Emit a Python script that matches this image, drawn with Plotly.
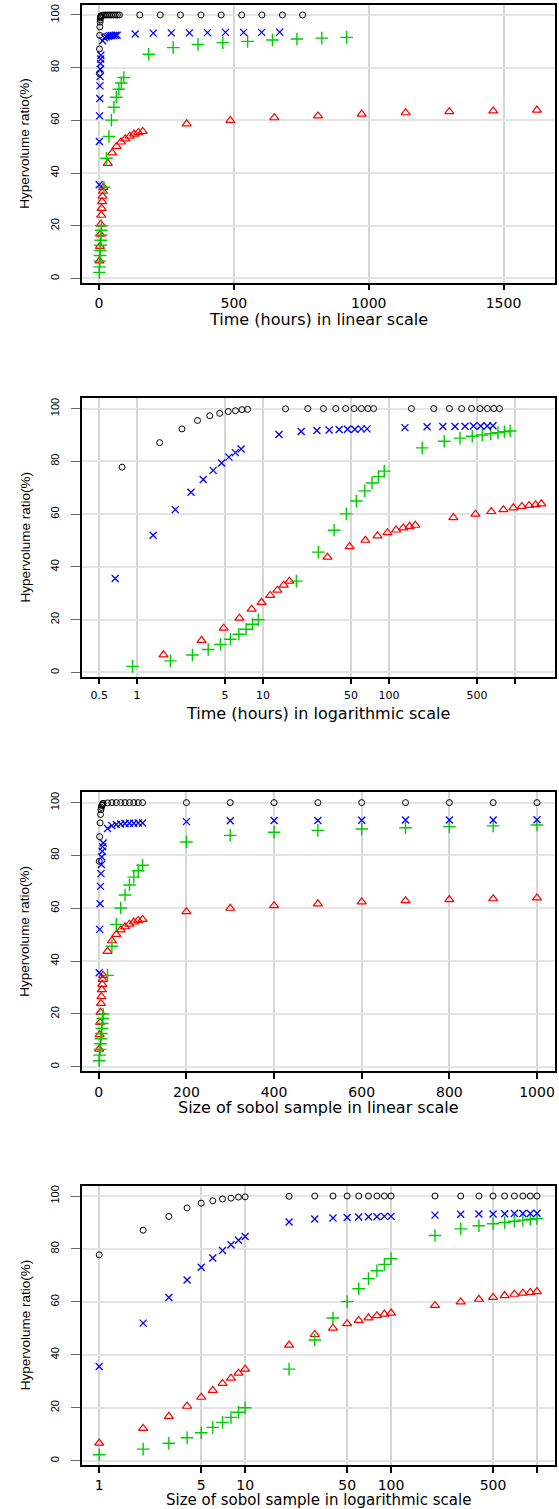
import plotly.graph_objects as go

# ---------------- data ----------------
sample_size = [1, 2, 3, 4, 5, 6, 7, 8, 9, 10,
               20, 30, 40, 50, 60, 70, 80, 90, 100,
               200, 300, 400, 500, 600, 700, 800, 900, 1000]

# hypervolume ratio (%) per sample size
hv_black = [77.8, 87.1, 92.3, 95.5, 97.3, 98.2, 98.9, 99.2, 99.6, 99.7,
            99.9, 100.0, 100.0, 100.0, 100.0, 100.0, 100.0, 100.0, 100.0,
            100.0, 100.0, 100.0, 100.0, 100.0, 100.0, 100.0, 100.0, 100.0]
hv_blue = [35.6, 52.0, 61.7, 68.3, 73.1, 76.6, 79.4, 81.6, 83.3, 84.7,
           90.2, 91.3, 91.7, 91.9, 92.1, 92.2, 92.2, 92.3, 92.3,
           92.8, 93.1, 93.2, 93.2, 93.3, 93.4, 93.4, 93.4, 93.5]
hv_green = [2.3, 4.4, 6.6, 8.7, 10.6, 12.6, 14.5, 16.4, 18.3, 20.0,
            34.6, 45.6, 53.9, 60.1, 65.0, 68.8, 71.8, 74.2, 76.3,
            85.1, 87.6, 88.8, 89.5, 90.0, 90.5, 90.9, 91.2, 91.5]
hv_red = [6.7, 12.2, 16.8, 20.6, 24.0, 26.6, 29.2, 31.2, 33.1, 34.6,
          43.7, 47.7, 50.1, 51.8, 53.0, 54.0, 54.8, 55.4, 55.8,
          58.7, 60.0, 61.0, 61.7, 62.4, 62.9, 63.3, 63.6, 63.9]

# computation time (hours) per sample size
time_black = [0.76, 1.51, 2.27, 3.02, 3.78, 4.53, 5.29, 6.04, 6.8, 7.55,
              15.1, 22.7, 30.2, 37.8, 45.3, 52.9, 60.4, 68.0, 75.5,
              151, 227, 302, 378, 453, 529, 604, 680, 755]
time_blue = [0.67, 1.34, 2.01, 2.68, 3.35, 4.02, 4.69, 5.36, 6.03, 6.7,
             13.4, 20.1, 26.8, 33.5, 40.2, 46.9, 53.6, 60.3, 67.0,
             134, 201, 268, 335, 402, 469, 536, 603, 670]
time_green = [0.92, 1.84, 2.75, 3.67, 4.59, 5.51, 6.43, 7.34, 8.26, 9.18,
              18.4, 27.5, 36.7, 45.9, 55.1, 64.3, 73.4, 82.6, 91.8,
              184, 275, 367, 459, 551, 643, 734, 826, 918]
time_red = [1.62, 3.25, 4.87, 6.5, 8.12, 9.74, 11.4, 13.0, 14.6, 16.2,
            32.5, 48.7, 65.0, 81.2, 97.4, 114, 130, 146, 162,
            325, 487, 650, 812, 974, 1137, 1299, 1462, 1624]

lin_time_ticks = [0, 500, 1000, 1500]
log_time_ticks = [0.5, 1, 5, 10, 50, 100, 500, 1000]
log_time_labels = ["0.5", "1", "5", "10", "50", "100", "500", ""]
lin_size_ticks = [0, 200, 400, 600, 800, 1000]
log_size_ticks = [1, 5, 10, 50, 100, 500, 1000]
log_size_labels = ["1", "5", "10", "50", "100", "500", ""]
y_ticks = [0, 20, 40, 60, 80, 100]

x_titles = ["Time (hours) in linear scale",
            "Time (hours) in logarithmic scale",
            "Size of sobol sample in linear scale",
            "Size of sobol sample in logarithmic scale"]
y_title = "Hypervolume ratio(%)"

# ---------------- layout geometry ----------------
W, H = 559, 1509
FL, FR = 81.7, 554.5
frames = [(4.7, 282.7), (398.3, 676.7), (792.3, 1071.0), (1185.7, 1465.0)]
x_title_offset = [36.5, 36.5, 36.5, 34.5]
x_title_size = [16, 16, 16, 15]
x_tick_standoff = [1, 1, 1, 0]

series = [
    ("pch 1", time_black, hv_black, dict(symbol="circle-open", size=6, color="black",
                                          line=dict(width=1, color="black"))),
    ("pch 2", time_red, hv_red, dict(symbol="triangle-up-open", size=8, color="#FF0000",
                                      line=dict(width=1.2, color="#FF0000"))),
    ("pch 3", time_green, hv_green, dict(symbol="cross-thin-open", size=9, color="#00CD00",
                                          line=dict(width=1.4, color="#00CD00"))),
    ("pch 4", time_blue, hv_blue, dict(symbol="x-thin-open", size=7, color="#0000FF",
                                        line=dict(width=1.3, color="#0000FF"))),
]

fig = go.Figure()

for p in range(4):
    ax = "" if p == 0 else str(p + 1)
    for name, t, hv, mk in series:
        xs = t if p < 2 else sample_size
        fig.add_trace(go.Scatter(x=xs, y=hv, mode="markers", name=name, marker=mk,
                                 xaxis="x" + ax, yaxis="y" + ax, showlegend=False,
                                 cliponaxis=False))

x_specs = [
    dict(type="linear", range=[-64.3, 1689], tickvals=lin_time_ticks,
         ticktext=[str(v) for v in lin_time_ticks], tfs=14),
    dict(type="log", range=[-0.440, 3.315], tickvals=log_time_ticks,
         ticktext=log_time_labels, tfs=11),
    dict(type="linear", range=[-38.96, 1039.96], tickvals=lin_size_ticks,
         ticktext=[str(v) for v in lin_size_ticks], tfs=14),
    dict(type="log", range=[-0.12, 3.12], tickvals=log_size_ticks,
         ticktext=log_size_labels, tfs=14),
]

annotations = []
for p, (top, bot) in enumerate(frames):
    ax = "" if p == 0 else str(p + 1)
    spec = x_specs[p]
    ydom = [1 - bot / H, 1 - top / H]
    fig.layout["xaxis" + ax] = dict(
        domain=[FL / W, FR / W], anchor="y" + ax, type=spec["type"], range=spec["range"],
        tickmode="array", tickvals=spec["tickvals"], ticktext=spec["ticktext"],
        ticks="outside", ticklen=6, tickwidth=1.5, tickcolor="black",
        tickfont=dict(family="DejaVu Sans", size=spec["tfs"], color="black"),
        ticklabelstandoff=x_tick_standoff[p],
        showgrid=True, gridcolor="#d6d6d6", gridwidth=1.5, zeroline=False,
        showline=True, mirror=True, linecolor="black", linewidth=1.5,
    )
    fig.layout["yaxis" + ax] = dict(
        domain=ydom, anchor="x" + ax, range=[-1.6, 103.9],
        tickmode="array", tickvals=y_ticks, ticktext=[str(v) for v in y_ticks],
        ticks="outside", ticklen=8.5, tickwidth=1, tickcolor="#666666",
        tickangle=-90,
        tickfont=dict(family="Liberation Sans", size=11, color="black"),
        ticklabelstandoff=8,
        showgrid=True, gridcolor="#e4e4e4", gridwidth=2, zeroline=False,
        showline=True, mirror=True, linecolor="black", linewidth=2,
    )
    annotations.append(dict(
        text=x_titles[p], xref="paper", yref="paper",
        x=(FL + FR) / 2 / W, y=1 - (bot + x_title_offset[p]) / H,
        xanchor="center", yanchor="middle", showarrow=False,
        font=dict(family="DejaVu Sans", size=x_title_size[p], color="black")))
    annotations.append(dict(
        text=y_title, xref="paper", yref="paper",
        x=25 / W, y=1 - (top + bot) / 2 / H, textangle=-90,
        xanchor="center", yanchor="middle", showarrow=False,
        font=dict(family="Liberation Sans", size=13.5, color="black")))

fig.update_layout(
    width=W, height=H, margin=dict(l=0, r=0, t=0, b=0),
    paper_bgcolor="white", plot_bgcolor="white",
    annotations=annotations, showlegend=False,
)

fig.write_html("out.html")
